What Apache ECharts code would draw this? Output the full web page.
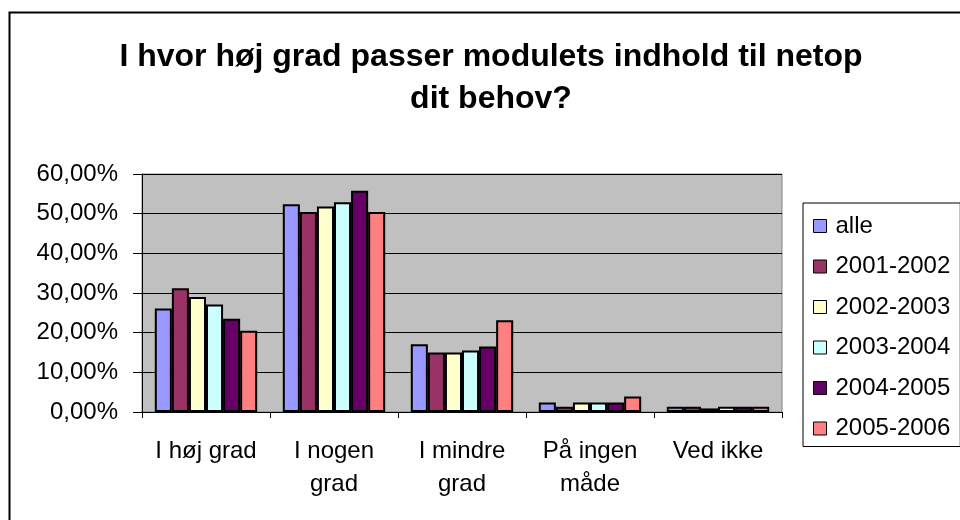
<!DOCTYPE html>
<html>
<head>
<meta charset="utf-8">
<script src="https://cdn.jsdelivr.net/npm/echarts@6/dist/echarts.min.js"></script>
<style>
    html, body { margin: 0; padding: 0; background: #fff; }
    #chart { width: 960px; height: 520px; }
</style>
</head>
<body>
<div id="chart"></div>
<script>
    var CATEGORIES = ['I høj grad', 'I nogen\ngrad', 'I mindre\ngrad', 'På ingen\nmåde', 'Ved ikke'];
    var SERIES_NAMES = ['alle', '2001-2002', '2002-2003', '2003-2004', '2004-2005', '2005-2006'];
    var COLORS = ['#9999FF', '#993366', '#FFFFCC', '#CCFFFF', '#660066', '#FF8080'];

    // values in fractions
    var ALLE = [0.261, 0.524, 0.171, 0.024, 0.013];
    var Y2001 = [0.312, 0.504, 0.150, 0.013, 0.013];
    var Y2002 = [0.290, 0.518, 0.150, 0.024, 0.009];
    var Y2003 = [0.271, 0.529, 0.155, 0.024, 0.013];
    var Y2004 = [0.235, 0.558, 0.165, 0.024, 0.013];
    var Y2005 = [0.205, 0.504, 0.231, 0.039, 0.013];
    var VALUES = [ALLE, Y2001, Y2002, Y2003, Y2004, Y2005];

    var FONT = '"Liberation Sans", Arial, sans-serif';

    var chart = echarts.init(document.getElementById('chart'));

    var series = [];
    for (var i = 0; i < SERIES_NAMES.length; i++) {
        series.push({
            name: SERIES_NAMES[i],
            type: 'bar',
            data: VALUES[i],
            barGap: '0%',
            barCategoryGap: '20%',
            itemStyle: { color: COLORS[i], borderColor: '#000', borderWidth: 2 }
        });
    }

    chart.setOption({
        animation: false,
        color: COLORS,
        title: {
            text: 'I hvor høj grad passer modulets indhold til netop\ndit behov?',
            left: 486,
            top: 31,
            textAlign: 'center',
            textStyle: { fontFamily: FONT, fontSize: 32, fontWeight: 'bold', color: '#000', lineHeight: 42 }
        },
        graphic: [{
            type: 'rect',
            shape: { x: 9.5, y: 12.5, width: 980, height: 540 },
            style: { fill: 'none', stroke: '#000', lineWidth: 2 },
            z: -1
        }],
        legend: {
            orient: 'vertical',
            left: 803,
            top: 203,
            padding: [11, 10, 6, 10],
            itemWidth: 13,
            itemHeight: 13,
            itemGap: 16.5,
            icon: 'rect',
            borderColor: '#000',
            borderWidth: 1,
            itemStyle: { borderColor: '#000', borderWidth: 1 },
            textStyle: { fontFamily: FONT, fontSize: 24, color: '#000', padding: [0, 0, 0, 4] },
            data: SERIES_NAMES
        },
        grid: {
            left: 142,
            top: 174,
            right: 178,
            bottom: 108,
            show: true,
            backgroundColor: '#C0C0C0',
            borderColor: '#808080',
            borderWidth: 1
        },
        xAxis: {
            type: 'category',
            data: CATEGORIES,
            axisLine: { lineStyle: { color: '#000', width: 1 } },
            axisTick: { show: true, length: 6, lineStyle: { color: '#000' } },
            axisLabel: { fontFamily: FONT, fontSize: 24, color: '#000', margin: 23, lineHeight: 33, interval: 0 }
        },
        yAxis: {
            type: 'value',
            min: 0,
            max: 0.6,
            interval: 0.1,
            axisLine: { show: true, lineStyle: { color: '#000', width: 1 } },
            axisTick: { show: true, inside: false, length: 9, lineStyle: { color: '#000' } },
            splitLine: { lineStyle: { color: '#000', width: 1 } },
            axisLabel: {
                fontFamily: FONT, fontSize: 24, color: '#000', margin: 24,
                formatter: function (v) {
                    return (v * 100).toFixed(2).replace('.', ',') + '%';
                }
            }
        },
        series: series
    });
</script>
</body>
</html>
